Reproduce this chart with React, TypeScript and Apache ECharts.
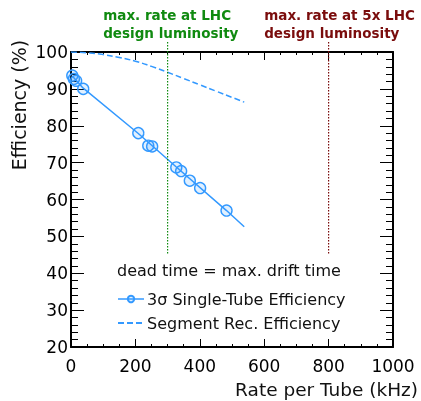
import React, { useEffect, useRef } from 'react';
import * as echarts from 'echarts';

const measRate = [4, 9, 16, 38, 209, 240, 252, 327, 342, 369, 401, 483];
const measEff = [93.6, 92.7, 92.2, 90.0, 78.0, 74.6, 74.4, 68.7, 67.7, 65.1, 63.1, 57.0];
const fitRate = [4, 38, 209, 327, 483, 538];
const fitEff = [93.5, 90.2, 77.9, 68.8, 57.0, 52.6];
const segRate = [0, 50, 100, 150, 200, 250, 300, 350, 400, 450, 500, 538];
const segEff = [100, 99.8, 99.3, 98.5, 97.5, 96.1, 94.5, 92.8, 91.1, 89.4, 87.7, 86.4];
const xTicks = [0, 200, 400, 600, 800, 1000];
const yTicks = [20, 30, 40, 50, 60, 70, 80, 90, 100];
const markers = [
  { rate: 300, lines: ['max. rate at LHC', 'design luminosity'], color: '#108a10' },
  { rate: 800, lines: ['max. rate at 5x LHC', 'design luminosity'], color: '#7a0c0c' },
];
const legendTitle = 'dead time = max. drift time';
const measName = '3σ Single-Tube Efficiency';
const segName = 'Segment Rec. Efficiency';

const FONT = 'DejaVu Sans';
const BLUE = '#3399ff';

export default function App() {
  const ref = useRef<HTMLDivElement>(null);
  useEffect(() => {
    if (!ref.current) return;
    const chart = echarts.init(ref.current, undefined, { renderer: 'svg' });
    const xAxisCommon = {
      type: 'value',
      min: xTicks[0],
      max: xTicks[xTicks.length - 1],
      interval: xTicks[1] - xTicks[0],
      axisLine: { show: true, onZero: false, lineStyle: { color: '#000', width: 2 } },
      axisTick: { show: true, inside: true, length: 8, lineStyle: { color: '#000', width: 1 } },
      minorTick: { show: true, splitNumber: 4, length: 3, lineStyle: { color: '#000', width: 1 } },
      splitLine: { show: false },
    };
    const yAxisCommon = {
      type: 'value',
      min: yTicks[0],
      max: yTicks[yTicks.length - 1],
      interval: yTicks[1] - yTicks[0],
      axisLine: { show: true, onZero: false, lineStyle: { color: '#000', width: 2 } },
      axisTick: { show: true, inside: true, length: 13, lineStyle: { color: '#000', width: 1 } },
      minorTick: { show: true, splitNumber: 5, length: 7, lineStyle: { color: '#000', width: 1 } },
      splitLine: { show: false },
    };
    chart.setOption({
      animation: false,
      textStyle: { fontFamily: FONT },
      grid: { left: 71, right: 28, top: 52, bottom: 54, containLabel: false },
      xAxis: [
        {
          ...xAxisCommon,
          position: 'bottom',
          axisLabel: {
            show: true,
            color: '#000',
            fontSize: 17,
            fontFamily: FONT,
            margin: 10,
            formatter: (v: number) => String(v),
          },
        },
        { ...xAxisCommon, position: 'top', axisLabel: { show: false } },
      ],
      yAxis: [
        {
          ...yAxisCommon,
          position: 'left',
          axisLabel: {
            show: true,
            color: '#000',
            fontSize: 17,
            fontFamily: FONT,
            margin: 3,
            formatter: (v: number) => String(v),
          },
        },
        { ...yAxisCommon, position: 'right', axisLabel: { show: false } },
      ],
      legend: {
        orient: 'vertical',
        left: 112,
        top: 286,
        itemWidth: 26,
        itemHeight: 8,
        itemGap: 8,
        textStyle: { fontSize: 16, color: '#111', fontFamily: FONT, padding: [0, 0, 0, -2] },
        data: [
          { name: measName, lineStyle: { opacity: 1, width: 1.5, color: BLUE } },
          { name: segName, itemStyle: { opacity: 0 } },
        ],
      },
      series: [
        {
          name: 'fit',
          type: 'line',
          data: fitRate.map((r, i) => [r, fitEff[i]]),
          showSymbol: false,
          symbol: 'none',
          lineStyle: { color: BLUE, width: 1.5 },
          silent: true,
        },
        {
          name: measName,
          type: 'line',
          data: measRate.map((r, i) => [r, measEff[i]]),
          symbol: 'circle',
          symbolSize: 11,
          showSymbol: true,
          lineStyle: { opacity: 0, width: 1.5, color: BLUE },
          itemStyle: { color: 'rgba(51,153,255,0.15)', borderColor: BLUE, borderWidth: 1.4 },
        },
        {
          name: segName,
          type: 'line',
          data: segRate.map((r, i) => [r, segEff[i]]),
          symbol: 'none',
          showSymbol: false,
          smooth: true,
          lineStyle: { color: BLUE, width: 1.5, type: [6, 3] },
          itemStyle: { color: BLUE },
        },
      ],
    });

    const graphics: any[] = [];
    markers.forEach((m) => {
      const x = chart.convertToPixel({ xAxisIndex: 0 }, m.rate) as number;
      const xText = chart.convertToPixel({ xAxisIndex: 0 }, m.rate - 200) as number;
      const yBottom = chart.convertToPixel({ yAxisIndex: 0 }, 45) as number;
      graphics.push({
        type: 'line',
        shape: { x1: x, y1: 42, x2: x, y2: yBottom },
        style: { stroke: m.color, lineWidth: 1.2, lineDash: [1.5, 1.5] },
        z: 10,
      });
      m.lines.forEach((t, i) => {
        graphics.push({
          type: 'text',
          x: xText,
          y: 15 + i * 18,
          style: {
            text: t,
            fill: m.color,
            font: `bold 13.5px "${FONT}"`,
            align: 'left',
            verticalAlign: 'middle',
          },
        });
      });
    });
    graphics.push({
      type: 'text',
      x: 117,
      y: 270,
      style: { text: legendTitle, fill: '#111', font: `16px "${FONT}"`, align: 'left', verticalAlign: 'middle' },
    });
    graphics.push({
      type: 'text',
      x: 19,
      y: 105,
      rotation: Math.PI / 2,
      style: { text: 'Efficiency (%)', fill: '#111', font: `19px "${FONT}"`, align: 'center', verticalAlign: 'middle' },
    });
    graphics.push({
      type: 'text',
      x: 418,
      y: 389,
      style: { text: 'Rate per Tube (kHz)', fill: '#111', font: `18.5px "${FONT}"`, align: 'right', verticalAlign: 'middle' },
    });
    chart.setOption({ graphic: graphics });

    return () => chart.dispose();
  }, []);
  return <div ref={ref} style={{ position: 'fixed', left: 0, top: 0, width: 421, height: 401 }} />;
}
